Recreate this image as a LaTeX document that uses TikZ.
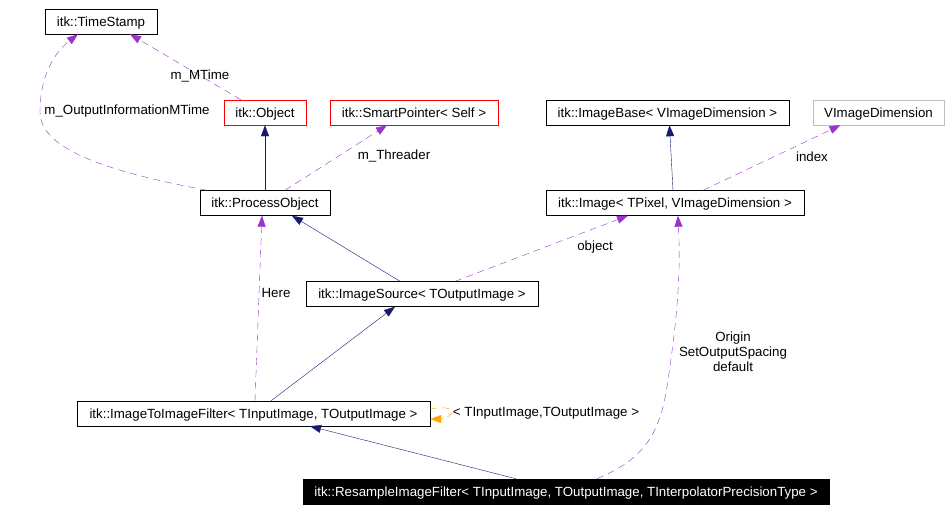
\documentclass[tikz,border=0pt]{standalone}
\usepackage{fontspec}
\setmainfont{Liberation Sans}
\usepackage{tikz}
\usetikzlibrary{arrows.meta,positioning}
\definecolor{EdgeNavy}{HTML}{191970}
\definecolor{EdgePurple}{HTML}{9A32CD}
\definecolor{EdgeOrange}{HTML}{FFA500}
\definecolor{BoxGray}{HTML}{BFBFBF}

\begin{document}
\begin{tikzpicture}[
  x=1pt, y=-1pt,
  font=\fontsize{13.3}{15}\selectfont,
  cls/.style={draw=black, fill=white, minimum height=25pt, inner sep=0pt,
    text height=9.6pt, text depth=0pt},
  clsred/.style={cls, draw=red},
  clsgray/.style={cls, draw=BoxGray},
  clsroot/.style={cls, fill=black, text=white},
  inherit/.style={-{Triangle[length=11pt,width=8pt]}, EdgeNavy},
  usage/.style={-{Triangle[length=11pt,width=8pt]}, EdgePurple, dash pattern=on 7pt off 5pt},
  tmpl/.style={-{Triangle[length=11pt,width=8pt]}, EdgeOrange, dash pattern=on 7pt off 5pt},
  lbl/.style={inner sep=0pt, align=center, text=black}
]
  \useasboundingbox (0,0) rectangle (951,511);

  % classes
  \node[cls, minimum width=112pt] (ts) at (101,21.5) {itk::TimeStamp};
  \node[clsred, minimum width=82pt] (obj) at (265,112.5) {itk::Object};
  \node[clsred, minimum width=168pt] (sp) at (414,112.5) {itk::SmartPointer< Self >};
  \node[cls, minimum width=130pt] (po) at (265,203) {itk::ProcessObject};
  \node[cls, minimum width=243pt] (ib) at (667.5,112.5) {itk::ImageBase< VImageDimension >};
  \node[clsgray, minimum width=131pt] (vid) at (878.5,112.5) {VImageDimension};
  \node[cls, minimum width=258pt] (img) at (675,203) {itk::Image< TPixel, VImageDimension >};
  \node[cls, minimum width=232pt] (isrc) at (422,294) {itk::ImageSource< TOutputImage >};
  \node[cls, minimum width=353pt] (i2i) at (253.5,413.5) {itk::ImageToImageFilter< TInputImage, TOutputImage >};
  \node[clsroot, minimum width=526pt] (rs) at (566,491.5) {itk::ResampleImageFilter< TInputImage, TOutputImage, TInterpolatorPrecisionType >};

  % inheritance
  \draw[inherit] (po.north) -- (obj.south);
  \draw[inherit] ([xshift=-22pt]isrc.north) -- ([xshift=27pt]po.south);
  \draw[inherit] ([xshift=-2pt]img.north) -- ([xshift=2pt]ib.south);
  \draw[inherit] ([xshift=17.5pt]i2i.north) -- ([xshift=-27pt]isrc.south);
  \draw[inherit] ([xshift=-50pt]rs.north) -- ([xshift=56.5pt]i2i.south);

  % usage
  \draw[usage] ([xshift=-24pt]obj.north) -- ([xshift=29pt]ts.south)
    node[lbl, pos=0.37] (lmt) {m\_MTime};
  \draw[usage] ([xshift=-58pt]po.north) .. controls (110,172) and (40,150) .. (40,112)
    .. controls (40,75) and (55,52) .. ([xshift=-23pt]ts.south);
  \node[lbl] (loim) at (127,111) {m\_OutputInformationMTime};
  \draw[usage] ([xshift=20pt]po.north) -- ([xshift=-27pt]sp.south);
  \node[lbl] (lthr) at (394,156) {m\_Threader};
  \draw[usage] ([xshift=1.5pt]i2i.north) -- ([xshift=-3pt]po.south);
  \node[lbl] (lhere) at (276,293) {Here};
  \draw[usage] ([xshift=28pt]img.north) -- ([xshift=-38pt]vid.south);
  \node[lbl] (lidx) at (812,157) {index};
  \draw[usage] ([xshift=33pt]isrc.north) -- ([xshift=-47pt]img.south);
  \node[lbl] (lobj) at (595,247) {object};
  \draw[usage] ([xshift=31pt]rs.north) .. controls (640,460) and (660,440) .. (668,380)
    .. controls (680,300) and (680,260) .. ([xshift=3pt]img.south);
  \node[lbl] (lorig) at (733,352) {Origin\\SetOutputSpacing\\default};

  % template instance
  \draw[tmpl] ([yshift=4.5pt]i2i.east) .. controls (445,406) and (455,409) .. (452,413)
    .. controls (449,418) and (440,419) .. ([yshift=-5.5pt]i2i.east);
  \node[lbl] (ltmpl) at (546,413) {< TInputImage,TOutputImage >};
\end{tikzpicture}
\end{document}
